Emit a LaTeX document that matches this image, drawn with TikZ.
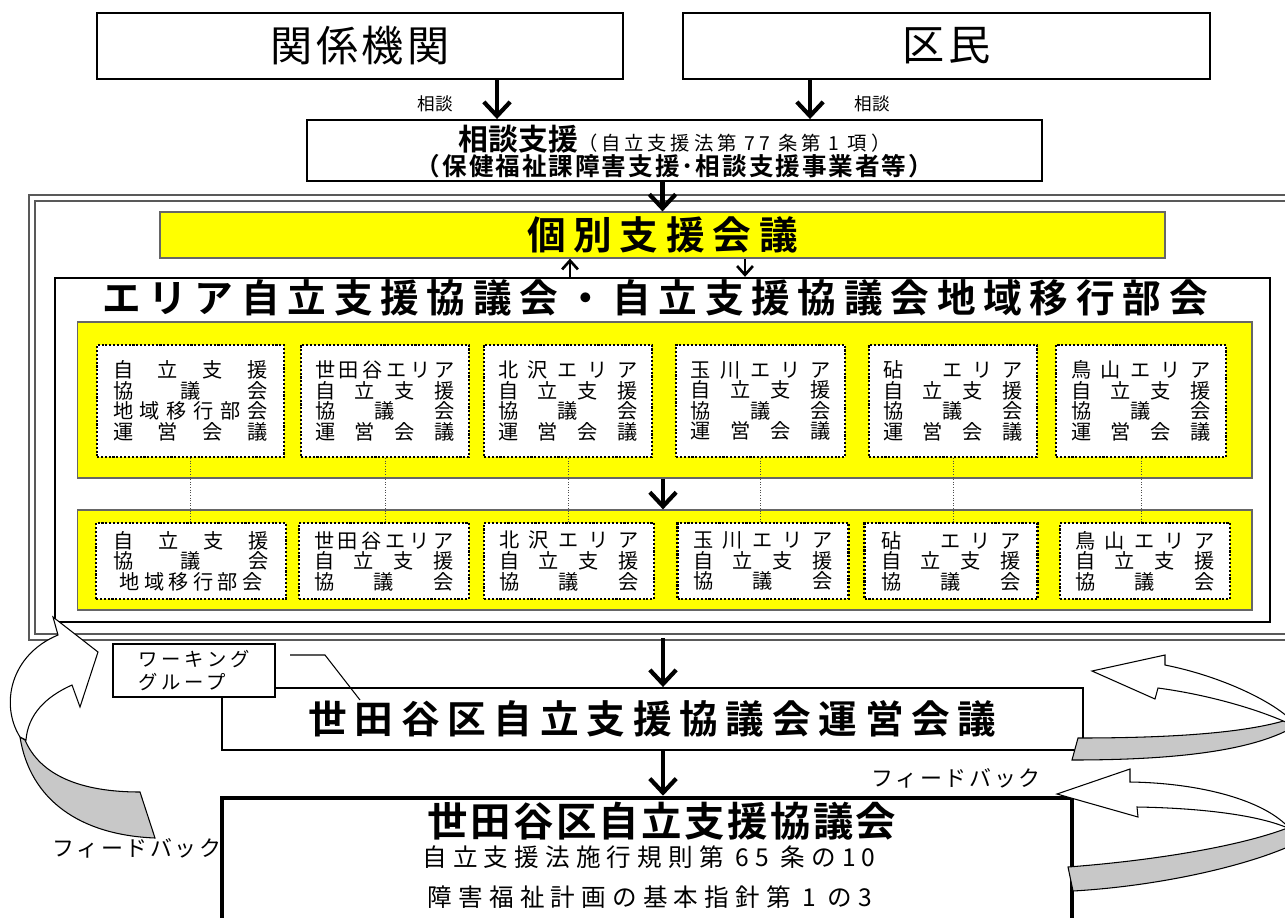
\documentclass[tikz,border=0pt]{standalone}
\usepackage{fontspec}
\setmainfont{Noto Sans CJK JP}[BoldFont={Noto Sans CJK JP Bold}]
\newfontfamily\jpwide{Noto Sans CJK JP}[LetterSpace=20,BoldFont={Noto Sans CJK JP Bold}]
\usetikzlibrary{arrows.meta}
\definecolor{panelyellow}{RGB}{255,255,0}
\definecolor{bandgray}{RGB}{200,200,200}
\newcommand{\spr}[2][2.8cm]{\hbox to #1{#2}}

\begin{document}
\begin{tikzpicture}[x=0.02cm, y=-0.02cm,
    box/.style={draw, line width=1.1pt, fill=white, inner sep=0pt},
    ypanel/.style={draw=black!60, line width=0.7pt, fill=panelyellow, inner sep=0pt},
    dotbox/.style={draw, line width=1.2pt, densely dotted, fill=white, inner sep=0pt, align=center,
                   font={\fontsize{11.5}{11.7}\selectfont\lineskiplimit=-20pt\relax}},
    link/.style={draw=black!70, line width=0.5pt, densely dotted},
    flow/.style={line width=2.4pt, -{Straight Barb[length=8pt,width=15pt]}},
    thinflow/.style={line width=1.5pt, -{Straight Barb[length=5pt,width=9pt]}},
    band/.style={draw, line width=0.6pt, fill=bandgray},
    head/.style={draw, line width=0.6pt, fill=white},
    bigwide/.style={font=\jpwide\bfseries\fontsize{22}{26}\selectfont},
    fb/.style={font=\fontsize{12.5}{14}\selectfont\addfontfeatures{LetterSpace=12}}]
    \clip (0,0) rectangle (1285,917);
    \useasboundingbox (0,0) rectangle (1285,917);

    % top row
    \node[box, minimum width=10.52cm, minimum height=1.32cm, font=\fontsize{24}{28}\selectfont\addfontfeatures{LetterSpace=8}] (kikan) at (360,46) {関係機関};
    \node[box, minimum width=10.54cm, minimum height=1.32cm, font=\fontsize{24}{28}\selectfont\addfontfeatures{LetterSpace=8}] (kumin) at (946.5,46) {区民};
    \node[box, minimum width=14.7cm, minimum height=1.22cm] (soudan) at (674.5,150.5) {};
    \node[anchor=base, inner sep=0pt] (soudanA) at (674.5,150)
        {{\bfseries\fontsize{17}{18}\selectfont 相談支援}{\fontsize{11}{12}\selectfont\addfontfeatures{LetterSpace=20}（自立支援法第 77 条第 1 項）}};
    \node[anchor=base, inner sep=0pt, font=\bfseries\fontsize{14}{15}\selectfont\addfontfeatures{LetterSpace=8}] (soudanB) at (674.5,175)
        {（保健福祉課障害支援･相談支援事業者等）};
    \draw[flow] (kikan.south -| 497,0) -- (soudan.north -| 497,0);
    \draw[flow] (kumin.south -| 810,0) -- (soudan.north -| 810,0);
    \node[font=\fontsize{10}{12}\selectfont] (sdL) at (435,104) {相談};
    \node[font=\fontsize{10}{12}\selectfont] (sdR) at (872,104) {相談};

    % frame with area meetings
    \node[draw=black!65, line width=1.3pt, double=white, double distance=2.2pt, inner sep=0pt,
          minimum width=25.2cm, minimum height=8.78cm] (frame) at (662,417.5) {};
    \node[ypanel, minimum width=20.1cm, minimum height=0.92cm, bigwide] (kobetsu) at (662.5,235) {個別支援会議};
    \draw[flow] (soudan.south -| kobetsu.north) -- (kobetsu.north);
    \node[box, line width=1.4pt, minimum width=24.3cm, minimum height=6.88cm] (area) at (662.5,450) {};
    \node[bigwide] (areaT) at (655,298) {エリア自立支援協議会・自立支援協議会地域移行部会};
    \draw[thinflow] (area.north -| 570,0) -- (kobetsu.south -| 570,0);
    \draw[thinflow] (kobetsu.south -| 745,0) -- (area.north -| 745,0);

    \node[ypanel, minimum width=23.5cm, minimum height=3.12cm] (panelTop) at (664.5,400) {};
    \node[ypanel, minimum width=23.5cm, minimum height=2.0cm] (panelBot) at (664.5,560) {};
    \draw[flow] (panelTop.south -| 663,0) -- (panelBot.north -| 663,0);

    \node[dotbox, minimum width=3.74cm, minimum height=2.24cm] (t1) at (190.5,401)
        {\spr[3.1cm]{自\hfil 立\hfil 支\hfil 援}\\ \spr[3.1cm]{協\hfil 議\hfil 会}\\ \spr[3.1cm]{地\hfil 域\hfil 移\hfil 行\hfil 部\hfil 会}\\ \spr[3.1cm]{運\hfil 営\hfil 会\hfil 議}};
    \node[dotbox, minimum width=3.36cm, minimum height=2.24cm] (t2) at (385,401)
        {\spr{世\hfil 田\hfil 谷\hfil エ\hfil リ\hfil ア}\\ \spr{自\hfil 立\hfil 支\hfil 援}\\ \spr{協\hfil 議\hfil 会}\\ \spr{運\hfil 営\hfil 会\hfil 議}};
    \node[dotbox, minimum width=3.36cm, minimum height=2.24cm] (t3) at (568,401)
        {\spr{北\hfil 沢\hfil エ\hfil リ\hfil ア}\\ \spr{自\hfil 立\hfil 支\hfil 援}\\ \spr{協\hfil 議\hfil 会}\\ \spr{運\hfil 営\hfil 会\hfil 議}};
    \node[dotbox, minimum width=3.38cm, minimum height=2.24cm] (t4) at (760.5,401)
        {\spr{玉\hfil 川\hfil エ\hfil リ\hfil ア}\\ \spr{自\hfil 立\hfil 支\hfil 援}\\ \spr{協\hfil 議\hfil 会}\\ \spr{運\hfil 営\hfil 会\hfil 議}};
    \node[dotbox, minimum width=3.36cm, minimum height=2.24cm] (t5) at (953,401)
        {\spr{砧\hfil \quad\hfil エ\hfil リ\hfil ア}\\ \spr{自\hfil 立\hfil 支\hfil 援}\\ \spr{協\hfil 議\hfil 会}\\ \spr{運\hfil 営\hfil 会\hfil 議}};
    \node[dotbox, minimum width=3.40cm, minimum height=2.24cm] (t6) at (1141,401)
        {\spr{鳥\hfil 山\hfil エ\hfil リ\hfil ア}\\ \spr{自\hfil 立\hfil 支\hfil 援}\\ \spr{協\hfil 議\hfil 会}\\ \spr{運\hfil 営\hfil 会\hfil 議}};

    \node[dotbox, minimum width=3.80cm, minimum height=1.52cm] (b1) at (191,561)
        {\spr[3.1cm]{自\hfil 立\hfil 支\hfil 援}\\ \spr[3.1cm]{協\hfil 議\hfil 会}\\ \spr[2.85cm]{地\hfil 域\hfil 移\hfil 行\hfil 部\hfil 会}};
    \node[dotbox, minimum width=3.40cm, minimum height=1.52cm] (b2) at (384,561)
        {\spr{世\hfil 田\hfil 谷\hfil エ\hfil リ\hfil ア}\\ \spr{自\hfil 立\hfil 支\hfil 援}\\ \spr{協\hfil 議\hfil 会}};
    \node[dotbox, minimum width=3.40cm, minimum height=1.52cm] (b3) at (569,561)
        {\spr{北\hfil 沢\hfil エ\hfil リ\hfil ア}\\ \spr{自\hfil 立\hfil 支\hfil 援}\\ \spr{協\hfil 議\hfil 会}};
    \node[dotbox, minimum width=3.42cm, minimum height=1.52cm] (b4) at (763,561)
        {\spr{玉\hfil 川\hfil エ\hfil リ\hfil ア}\\ \spr{自\hfil 立\hfil 支\hfil 援}\\ \spr{協\hfil 議\hfil 会}};
    \node[dotbox, minimum width=3.46cm, minimum height=1.52cm] (b5) at (951,561)
        {\spr{砧\hfil \quad\hfil エ\hfil リ\hfil ア}\\ \spr{自\hfil 立\hfil 支\hfil 援}\\ \spr{協\hfil 議\hfil 会}};
    \node[dotbox, minimum width=3.40cm, minimum height=1.52cm] (b6) at (1145,561)
        {\spr{鳥\hfil 山\hfil エ\hfil リ\hfil ア}\\ \spr{自\hfil 立\hfil 支\hfil 援}\\ \spr{協\hfil 議\hfil 会}};

    \draw[link] (t1.south) -- (t1.south |- b1.north);
    \draw[link] (t2.south) -- (t2.south |- b2.north);
    \draw[link] (t3.south) -- (t3.south |- b3.north);
    \draw[link] (t4.south) -- (t4.south |- b4.north);
    \draw[link] (t5.south) -- (t5.south |- b5.north);
    \draw[link] (t6.south) -- (t6.south |- b6.north);

    % city level
    \node[box, minimum width=17.22cm, minimum height=1.24cm, bigwide] (unei) at (652.5,719) {世田谷区自立支援協議会運営会議};
    \draw[flow] (frame.south -| 663,0) -- (unei.north -| 663,0);
    \node[box, line width=0.7pt, minimum width=3.24cm, minimum height=1.06cm, align=left,
          font=\fontsize{11}{13}\selectfont\addfontfeatures{LetterSpace=20}] (wg) at (194,670.5) {ワーキング\\グループ};
    \coordinate (wgA) at (290,655);
    \coordinate (wgB) at (325,655);
    \coordinate (wgC) at (360,700);
    \draw[line width=0.6pt] (wgA) -- (wgB) -- (wgC);

    \node[fb] (fbL) at (137,848) {フィードバック};
    \node[fb] (fbR) at (956,778) {フィードバック};
    \node[box, line width=2.6pt, minimum width=17cm, minimum height=2.84cm] (kyogi) at (647,869) {};
    \draw[flow] (unei.south -| 663,0) -- (kyogi.north -| 663,0);
    \node[font=\bfseries\fontsize{23}{27}\selectfont\addfontfeatures{LetterSpace=6}] (kyogiT) at (662,821) {世田谷区自立支援協議会};
    \node[font=\fontsize{14}{16}\selectfont\addfontfeatures{LetterSpace=25}] (kyogiA) at (649,857) {自立支援法施行規則第 65 条の10};
    \node[font=\fontsize{14}{16}\selectfont\addfontfeatures{LetterSpace=25}] (kyogiB) at (650,897) {障害福祉計画の基本指針第 1 の3};

    % feedback arrows
    \draw[band] (25,740) .. controls (40,775) and (80,792) .. (140,792) -- (155,838) .. controls (80,835) and (30,800) .. (20,737) -- cycle;
    \draw[head] (20,737) .. controls (0,705) and (10,655) .. (58,635) -- (53,617) -- (98,652) -- (80,707) -- (72,685) .. controls (45,697) and (28,715) .. (26,740) -- cycle;

    \draw[band] (1078,738) .. controls (1180,738) and (1250,732) .. (1290,719) -- (1290,729) .. controls (1250,750) and (1180,760) .. (1072,760) -- cycle;
    \draw[head] (1290,719) .. controls (1270,700) and (1220,676) .. (1165,665) -- (1165,655) -- (1092,671) -- (1155,699) -- (1158,688) .. controls (1210,695) and (1260,710) .. (1290,724) -- cycle;

    \draw[band] (1068,867) .. controls (1160,860) and (1245,845) .. (1290,827) -- (1290,846) .. controls (1245,866) and (1160,886) .. (1073,891) -- cycle;
    \draw[head] (1290,829) .. controls (1265,800) and (1200,783) .. (1130,782) -- (1130,769) -- (1057,794) -- (1138,817) -- (1137,807) .. controls (1200,808) and (1260,815) .. (1290,829) -- cycle;
\end{tikzpicture}
\end{document}
